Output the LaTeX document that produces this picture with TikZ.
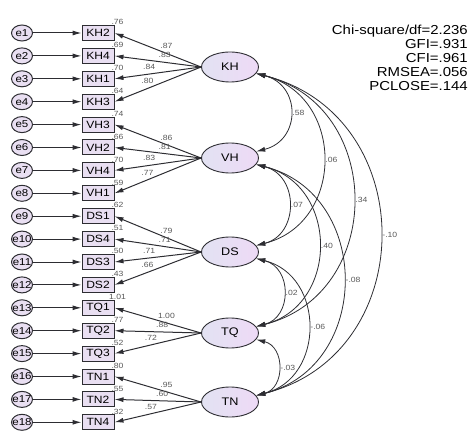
\documentclass[tikz,border=0pt]{standalone}
\usepackage{fontspec}
\setmainfont[FakeStretch=1.15]{Liberation Sans}
\usetikzlibrary{calc,arrows.meta,shapes.geometric}

\definecolor{boxfill}{RGB}{233,223,242}
\definecolor{latleft}{RGB}{226,226,242}
\definecolor{latright}{RGB}{238,218,246}
\definecolor{edgegray}{RGB}{45,45,50}

\tikzset{
    errnode/.style={ellipse, draw=edgegray, fill=boxfill, line width=1pt,
            minimum width=21pt, minimum height=16pt, inner sep=0pt},
    itembox/.style={rectangle, draw=edgegray, fill=boxfill, line width=1pt,
            minimum width=32pt, minimum height=15pt, inner sep=0pt,
            font=\fontsize{10.5}{10.5}\selectfont},
    latnode/.style={ellipse, draw=edgegray, left color=latleft, right color=latright,
            line width=0.9pt, minimum width=57pt, minimum height=30pt, inner sep=0pt,
            font=\fontsize{11}{11}\selectfont},
    load/.style={-{Latex[length=9pt,width=5pt]}, edgegray, line width=1pt},
    covar/.style={{Latex[length=9pt,width=5pt]}-{Latex[length=9pt,width=5pt]},
            edgegray, line width=0.8pt},
    est/.style={font=\fontsize{7.5}{7.5}\selectfont, text=black!65, inner sep=1pt}
}

\begin{document}
\begin{tikzpicture}[x=1pt, y=-1pt]
    \useasboundingbox (0,0) rectangle (470,435);
    % observed items with their error terms
    \foreach \item/\rsq [count=\i] in {KH2/.76, KH4/.69, KH1/.70, KH3/.64,
            VH3/.74, VH2/.66, VH4/.70, VH1/.59, DS1/.62, DS4/.51, DS3/.50, DS2/.43,
            TQ1/1.01, TQ2/.77, TQ3/.52, TN1/.80, TN2/.55, TN4/.32} {
        \node[errnode, label={[font=\fontsize{10}{10}\selectfont]center:e\i}]
            (e\i) at (22, {33+(\i-1)*22.9}) {};
        \node[itembox] (\item) at (98, {33+(\i-1)*22.9}) {\item};
        \node[est, anchor=south] at ($(\item.north east)+(3,1)$) {\rsq};
        \draw[load] (e\i) -- (\item);
    }
    % latent factors
    \node[latnode] (KH) at (230, 67) {KH};
    \node[latnode] (VH) at (230, 158) {VH};
    \node[latnode] (DS) at (230, 252) {DS};
    \node[latnode] (TQ) at (230, 333) {TQ};
    \node[latnode] (TN) at (230, 402) {TN};
    % loadings
    \foreach \lat/\item/\val/\p in {KH/KH2/.87/0.4, KH/KH4/.83/0.42, KH/KH1/.84/0.6, KH/KH3/.80/0.62,
            VH/VH3/.86/0.4, VH/VH2/.81/0.42, VH/VH4/.83/0.6, VH/VH1/.77/0.62,
            DS/DS1/.79/0.4, DS/DS4/.71/0.42, DS/DS3/.71/0.6, DS/DS2/.66/0.62,
            TQ/TQ1/1.00/0.4, TQ/TQ2/.88/0.45, TQ/TQ3/.72/0.58,
            TN/TN1/.95/0.4, TN/TN2/.60/0.45, TN/TN4/.57/0.58} {
        \draw[load] (\lat.west) -- node[est, pos=\p, above=3pt] {\val} (\item.east);
    }
    % covariances between factors
    \foreach \a/\b/\d/\val in {KH/VH/45/.58, KH/DS/89/.06, KH/TQ/129/.34, KH/TN/165/-.10,
            VH/DS/43/.07, VH/TQ/83/.40, VH/TN/116/-.08,
            DS/TQ/36/.02, DS/TN/69/-.06, TQ/TN/29/-.03} {
        \draw[covar] (\a.-14) .. controls +(\d, {0.25*\d}) and +(\d, {-0.25*\d}) ..
            node[est, right=1pt] {\val} (\b.14);
    }
    % fit indices
    \node[anchor=north east, align=right, inner sep=0pt,
        font=\fontsize{13}{13.9}\selectfont] (fit) at (468, 25)
        {Chi-square/df=2.236\\GFI=.931\\CFI=.961\\RMSEA=.056\\PCLOSE=.144};
\end{tikzpicture}
\end{document}
